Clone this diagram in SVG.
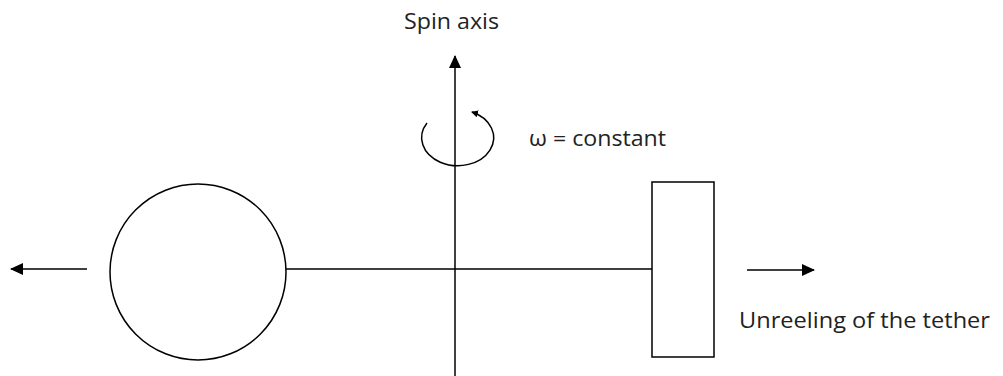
<svg xmlns="http://www.w3.org/2000/svg" width="1003" height="376" viewBox="0 0 1003 376">
<style>
.ln{stroke:#000;stroke-width:1.5;fill:none}
.tx{font-family:"Open Sans","Liberation Sans",sans-serif;font-size:21px;fill:#222}
</style>
<defs>
<marker id="ah" markerWidth="13" markerHeight="12" refX="12" refY="6" orient="auto" markerUnits="userSpaceOnUse" viewBox="0 0 13 12">
<path d="M0,0 L13,6 L0,12 Z" fill="#000"/>
</marker>
<marker id="ahs" markerWidth="7" markerHeight="7" refX="6" refY="3.5" orient="auto" markerUnits="userSpaceOnUse" viewBox="0 0 7 7">
<path d="M0,0 L7,3.5 L0,7 Z" fill="#000"/>
</marker>
</defs>
<g id="connectors">
<line class="ln" x1="455" y1="376" x2="455" y2="56" marker-end="url(#ah)"/>
<line class="ln" x1="286" y1="269" x2="652" y2="269"/>
<line class="ln" x1="87" y1="269" x2="11" y2="269" marker-end="url(#ah)" stroke="#333"/>
<line class="ln" x1="747" y1="270" x2="814" y2="270" marker-end="url(#ah)" stroke="#444"/>
<path class="ln" d="M427,123 A36,28 0 1 0 472,112" marker-end="url(#ahs)" stroke="#333"/>
</g>
<g id="mass">
<circle class="ln" cx="198" cy="272" r="88" stroke-width="1.3"/>
</g>
<g id="box">
<rect class="ln" x="652" y="182" width="62" height="175" stroke-width="1.3"/>
</g>
<g id="labels">
<text class="tx" x="404" y="29" textLength="95" lengthAdjust="spacingAndGlyphs">Spin axis</text>
<text class="tx" x="529" y="146" textLength="137" lengthAdjust="spacingAndGlyphs">ω = constant</text>
<text class="tx" x="739" y="328" textLength="251" lengthAdjust="spacingAndGlyphs">Unreeling of the tether</text>
</g>
</svg>
